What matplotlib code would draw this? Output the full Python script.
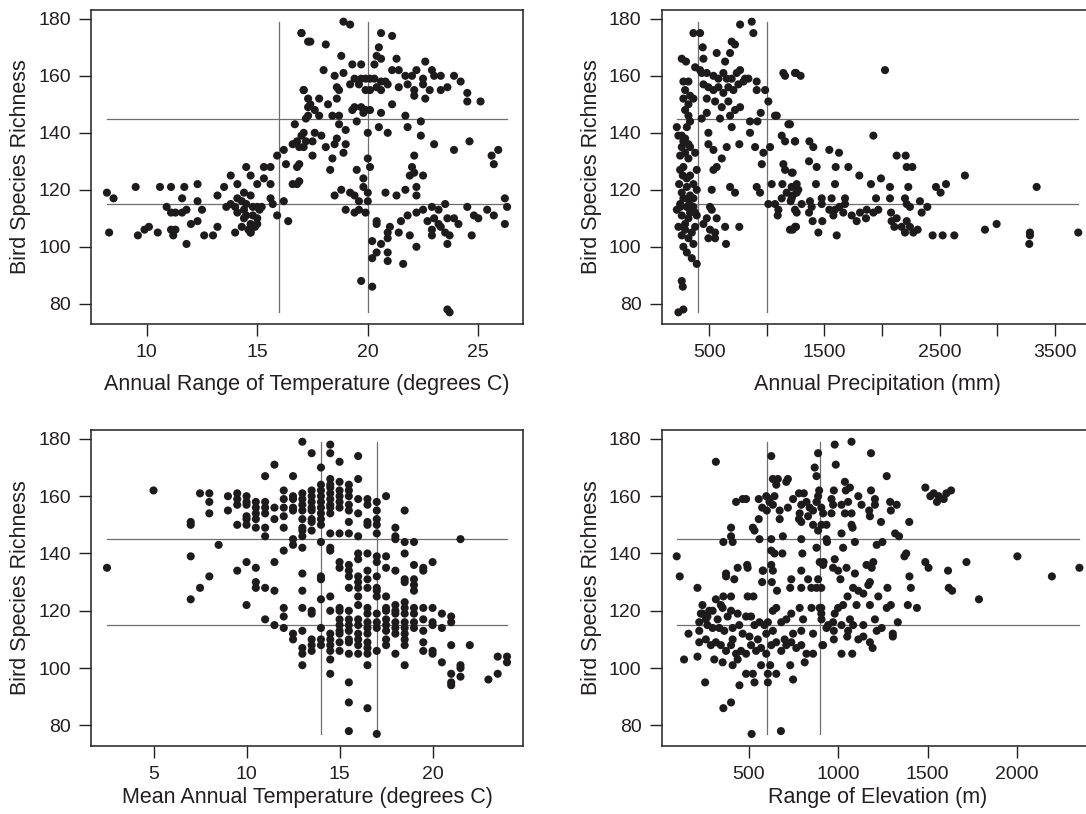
import matplotlib
matplotlib.use("Agg")
import matplotlib.pyplot as plt

plt.rcParams["font.family"] = ["Liberation Sans", "DejaVu Sans"]

# annual range of temperature (deg C), bird species richness
range_pts = [
    (17.0,175),(17.3,172),(17.1,155),(17.3,152),(17.3,149),(17.3,146),(16.7,143),(17.0,139),(16.6,136),(16.9,135),
    (16.8,137),(16.2,134),(15.9,132),(16.3,129),(16.8,128),(15.3,128),(15.6,128),(14.5,128),(14.7,125),(15.3,124),
    (13.8,125),(15.0,122),(15.6,122),(16.6,122),(16.8,122),(14.1,122),(13.5,121),(13.2,118),(14.4,119),(15.6,117),
    (15.7,115),(16.2,116),(15.9,111),(16.4,109),
    (8.2,119),(8.5,117),(8.3,105),(9.5,121),(9.6,104),(9.9,106),(10.1,107),(10.5,105),(10.6,121),(11.1,121),
    (11.7,121),(12.3,122),(11.6,117),(12.3,116),(12.5,113),(10.9,114),(11.1,112),(11.3,112),(11.8,113),(11.6,112),
    (11.1,106),(11.3,106),(11.2,104),(11.8,101),(12.0,108),(12.3,109),(12.6,104),(13.0,104),(13.2,107),(14.0,105),
    (14.3,107),(14.7,105),
    (14.1,117),(14.3,116),(14.5,115),(14.7,118),(14.8,114),(15.0,114),(15.1,113),(14.4,113),(14.1,112),(14.5,111),
    (14.8,111),(15.0,110),(14.7,108),(14.9,107),(14.6,106),(15.0,108),(15.2,114),(13.8,115),(13.6,114),(14.0,114),
    (14.4,110),(14.7,105),
    (18.9,179),(19.2,178),(17.0,175),(17.4,172),(18.1,171),(18.8,167),(20.6,175),(21.1,174),(20.5,170),(20.4,167),
    (20.6,166),(21.3,166),(22.6,165),(19.3,164),(19.7,164),(20.3,164),(18.0,162),
    (18.5,160),(18.9,161),(19.4,159),(19.7,159),(19.9,159),(20.1,159),(20.3,159),(20.6,158),(20.8,158),(21.1,162),
    (21.4,162),(21.7,160),(22.0,160),(22.2,162),(22.5,159),(22.9,162),(23.0,160),(23.3,160),(23.9,160),(24.2,158),
    (18.6,156),(18.7,155),(19.2,157),(19.6,157),(19.9,155),(20.1,155),(20.4,156),(20.6,155),(20.9,157),(21.4,156),
    (21.8,157),(22.1,155),(22.5,157),(22.8,155),(23.3,155),(23.6,156),(24.5,154),(24.5,151),(25.1,151),(22.6,152),
    (22.1,153),(17.1,155),(17.8,152),(18.2,150),(18.6,152),(17.4,150),(17.6,148),(17.2,145),(17.8,146),(18.4,146),
    (18.7,146),(19.4,149),(19.7,149),(19.9,148),(19.3,148),(20.1,148),(20.6,147),(21.1,150),(19.8,147),(19.5,144),
    (18.7,143),(19.0,141),(20.0,140),(20.5,142),(20.9,140),(21.7,146),(21.8,142),(22.4,144),(22.4,139),(23.0,136),
    (23.9,134),(24.6,137),(25.6,132),(25.9,134),(25.7,129),
    (17.1,140),(17.6,140),(17.9,139),(17.5,137),(17.2,137),(17.1,135),(18.1,135),(18.6,138),(18.5,136),(19.0,136),
    (18.9,133),(17.5,132),(18.4,131),(18.3,127),(16.9,129),(16.9,123),(20.0,131),(20.1,128),(19.5,127),(19.8,124),
    (19.8,121),(20.0,119),(18.8,120),(19.2,119),(19.4,118),(18.5,118),(19.6,116),(20.0,116),(19.0,113),(19.4,112),
    (19.6,113),(19.9,112),(20.8,119),(21.3,118),(21.7,120),(22.2,121),(22.2,118),(22.1,132),(22.0,128),(22.1,126),
    (21.9,125),(22.5,125),
    (20.4,109),(20.4,108),(21.0,107),(20.9,105),(21.5,109),(21.4,105),(20.9,103),(20.2,102),(20.6,101),(20.4,98),
    (20.2,96),(20.9,98),(20.9,95),(21.6,94),(21.9,104),(22.2,100),(21.8,111),(22.2,112),(22.5,113),(22.9,114),
    (23.2,113),(23.5,115),(22.7,109),(23.0,110),(23.2,108),(22.9,106),(23.3,107),(23.6,110),(23.9,110),(24.1,108),
    (23.5,105),(23.7,104),(23.6,101),(22.9,104),(24.7,104),(24.5,114),(24.8,111),(25.0,110),(25.4,113),(25.7,111),
    (26.2,117),(26.3,114),(26.2,108),(19.7,88),(20.2,86),(23.6,78),(23.7,77),
]

# annual precipitation (mm), bird species richness
precip_pts = [
    (263,166),(300,165),(364,175),(422,175),(445,170),(451,166),(277,158),(321,158),(379,163),(422,162),
    (292,155),(335,153),(277,152),(321,150),(364,152),(292,148),(321,146),(335,144),(307,142),(263,139),
    (292,138),(321,136),(263,135),(335,135),(292,133),(249,132),(321,131),(379,133),(277,128),(249,127),
    (272,125),(335,125),(393,127),(393,120),(307,121),(263,119),(335,118),(277,117),(364,117),(249,115),
    (307,114),(350,113),(263,111),(321,110),(234,107),(292,106),(350,105),(263,104),(321,103),(364,101),
    (277,100),(307,98),(350,96),(393,94),(263,88),(272,86),(277,78),(234,77),
    (220,142),(234,139),(277,137),(240,122),(307,124),(364,122),(220,113),(379,112),(292,108),(379,107),
    (249,114),(329,116),(364,114),(393,111),(335,112),
    (436,161),(480,161),(538,160),(581,159),(624,161),(653,159),(696,159),(740,161),(769,162),(798,158),
    (812,159),(566,168),(639,165),(682,168),(696,172),(725,171),(769,178),(870,179),(884,175),(451,157),
    (494,156),(538,155),(581,156),(624,154),(667,156),(711,155),(754,157),(841,159),(913,158),(913,155),
    (986,155),(1014,151),(480,152),(552,151),(610,149),(667,151),(725,148),(769,149),(480,147),(436,145),
    (595,145),(682,146),(855,144),(919,144),(948,147),(1072,146),(696,142),(494,140),(855,140),(494,136),
    (538,134),(653,135),(762,136),(899,135),(1029,135),(971,133),(610,131),(566,128),(538,127),(957,129),
    (523,120),(682,121),(725,119),(913,121),(942,119),(508,114),(523,113),(480,110),(566,110),(451,108),
    (508,106),(552,105),(494,103),(552,103),(647,101),(639,107),(762,107),
    (1014,115),(1072,115),(1101,113),(1095,111),(1043,122),(1136,122),(1130,117),(1173,119),(1225,118),(1260,122),
    (1274,120),(1217,126),(1144,129),(1159,127),(1130,139),(1159,137),(1246,137),(1188,143),(1087,146),(1144,161),
    (1159,160),(1254,161),(1208,116),(1260,112),(1202,106),(1246,107),
    (1245,161),(1294,160),(2026,162),(1202,143),(1245,137),(1925,139),(1370,137),(1404,135),(1543,134),(1627,133),
    (2127,132),(2205,132),(1367,130),(1433,128),(1598,128),(1708,128),(2214,128),(2263,128),(1225,126),(1803,125),
    (2719,125),(1427,122),(1592,122),(1904,122),(1991,124),(2069,121),(2228,121),(2468,121),(2555,122),(2508,119),
    (3341,121),(1216,121),(1260,119),(1216,117),(1303,115),(1245,113),(1375,116),(1390,114),(1367,112),(1477,117),
    (1477,115),(1563,117),(1679,117),(1679,115),(1543,113),(1592,113),(1630,114),(1578,111),(1664,112),(1737,111),
    (1809,112),(1780,109),(1861,110),(1867,113),(1925,112),(1968,113),(1948,117),(2069,117),(2078,112),(2083,109),
    (2127,110),(2107,107),(2199,117),(2214,115),(2242,114),(2329,116),(2344,112),(2393,114),(2214,109),(2170,107),
    (2199,105),(2242,107),(2309,106),(2271,105),(2439,104),(2526,104),(2627,104),(2893,106),(2994,108),(3283,105),
    (3283,104),(3277,101),(3702,105),(1398,109),(1482,109),(1448,105),(1607,104),(1225,106),(1254,107),
]

# mean annual temperature (deg C), bird species richness
mean_pts = [
    (2.5,135),(5.0,162),(7.0,151),(7.0,150),(7.0,139),(7.0,124),(7.5,161),(8.0,161),(8.0,158),(8.0,154),
    (7.5,128),(8.0,132),(8.5,143),(9.0,160),(9.0,155),(9.5,161),(9.5,159),(9.5,157),(9.5,150),(10.0,160),
    (10.0,158),(10.0,157),(10.0,153),(10.0,152),(10.0,150),(9.5,134),(10.0,137),(10.0,122),(10.5,158),(10.5,156),
    (10.5,154),(10.5,152),(10.5,149),(10.5,135),(10.5,130),(10.5,128),(11.0,158),(11.0,156),(11.0,154),(11.0,149),
    (11.0,146),(11.0,167),(11.0,128),(11.0,117),(11.5,171),(11.5,156),(11.5,152),(11.5,137),(11.5,127),(11.5,115),
    (12.0,162),(12.0,159),(12.0,156),(12.0,153),(12.0,149),(12.0,141),(12.0,121),(12.0,118),(12.0,114),(12.5,167),
    (12.5,160),(12.5,159),(12.5,156),(12.5,155),(12.5,145),(12.5,143),(12.5,112),(12.5,110),(13.0,179),(13.0,161),
    (13.0,159),(13.0,157),(13.0,155),(13.0,152),(13.0,149),(13.0,148),(13.0,146),(13.0,142),(13.0,133),(13.0,127),
    (13.0,121),(13.0,113),(13.0,107),(13.0,105),(13.0,101),
    (13.5,175),(13.5,162),(13.5,160),(13.5,158),(13.5,156),(13.5,155),(13.5,152),(13.5,151),(13.5,148),(13.5,120),
    (13.5,119),(13.5,110),(13.5,108),(13.5,106),
    (14.0,170),(14.0,164),(14.0,162),(14.0,160),(14.0,158),(14.0,156),(14.0,154),(14.0,152),(14.0,150),(14.0,144),
    (14.0,132),(14.0,131),(14.0,124),(14.0,114),(14.0,110),(14.0,108),
    (14.5,178),(14.5,175),(14.5,166),(14.5,164),(14.5,163),(14.5,161),(14.5,159),(14.5,157),(14.5,156),(14.5,154),
    (14.5,147),(14.5,142),(14.5,141),(14.5,125),(14.5,120),(14.5,112),(14.5,110),(14.5,108),(14.5,106),(14.5,103),
    (14.5,98),
    (15.0,172),(15.0,165),(15.0,162),(15.0,160),(15.0,158),(15.0,156),(15.0,147),(15.0,137),(15.0,135),(15.0,121),
    (15.0,120),(15.0,117),(15.0,115),(15.0,113),(15.0,112),(15.0,109),(15.0,106),
    (15.5,164),(15.5,162),(15.5,160),(15.5,157),(15.5,155),(15.5,151),(15.5,147),(15.5,136),(15.5,134),(15.5,132),
    (15.5,128),(15.5,120),(15.5,117),(15.5,115),(15.5,113),(15.5,110),(15.5,109),(15.5,105),(15.5,95),(15.5,88),
    (15.5,78),
    (16.0,174),(16.0,166),(16.0,159),(16.0,154),(16.0,146),(16.0,140),(16.0,138),(16.0,132),(16.0,130),(16.0,128),
    (16.0,125),(16.0,122),(16.0,117),(16.0,115),(16.0,112),(16.0,110),(16.0,108),(16.0,105),
    (16.5,159),(16.5,157),(16.5,151),(16.5,150),(16.5,140),(16.5,134),(16.5,131),(16.5,128),(16.5,121),(16.5,119),
    (16.5,116),(16.5,114),(16.5,112),(16.5,109),(16.5,107),(16.5,105),(16.5,101),(16.5,86),
    (17.0,158),(17.0,155),(17.0,152),(17.0,150),(17.0,147),(17.0,139),(17.0,137),(17.0,132),(17.0,128),(17.0,127),
    (17.0,125),(17.0,119),(17.0,116),(17.0,114),(17.0,106),(17.0,77),
    (17.5,160),(17.5,139),(17.5,135),(17.5,125),(17.5,121),(17.5,120),(17.5,117),(17.5,115),(17.5,113),(17.5,110),
    (17.5,108),
    (18.0,149),(18.0,146),(18.0,145),(18.0,134),(18.0,122),(18.0,120),(18.0,119),(18.0,116),(18.0,114),(18.0,112),
    (18.0,105),
    (18.5,155),(18.5,144),(18.5,140),(18.5,131),(18.5,130),(18.5,123),(18.5,121),(18.5,119),(18.5,116),(18.5,114),
    (18.5,112),(18.5,110),(18.5,108),(18.5,101),
    (19.0,144),(19.0,136),(19.0,131),(19.0,129),(19.0,127),(19.0,121),(19.0,119),(19.0,116),(19.0,114),
    (19.5,135),(19.5,134),(19.5,121),(19.5,117),(19.5,113),(19.5,109),(19.5,106),
    (20.0,137),(20.0,121),(20.0,116),(20.0,115),(20.0,106),(20.0,105),
    (20.5,119),(20.5,114),(20.5,102),
    (21.0,118),(21.0,116),(21.0,108),(21.0,98),(21.0,95),(21.0,94),
    (21.5,145),(21.5,101),(21.5,100),(21.5,97),(22.0,108),(23.0,96),(23.5,104),(23.5,98),(24.0,104),(24.0,102),
]

# range of elevation (m), bird species richness
elev_pts = [
    (96,139),(113,132),(137,103),(162,112),(212,128),(212,104),(222,113),(240,122),(231,119),(255,95),
    (315,172),(357,86),(400,88),(357,144),(409,144),(400,146),(400,149),(428,158),(465,159),(484,159),
    (522,149),(531,148),(490,136),(493,135),(578,134),(525,125),(372,132),(418,131),(400,125),(357,125),
    (315,124),(343,122),(278,120),(268,118),
    (555,159),(574,156),(597,160),(615,159),(634,157),(643,160),(600,155),(555,152),(634,166),(662,166),
    (653,164),(718,166),(709,165),(672,155),(672,152),(718,156),(747,159),(780,161),(807,161),(793,157),
    (784,154),(780,152),(793,151),(822,158),(840,156),(831,153),(859,155),(878,158),(887,160),(893,162),
    (868,170),(878,167),(887,175),(859,150),(887,148),(906,150),(625,174),(615,158),(559,145),(625,145),
    (625,141),(643,140),(687,140),(690,146),(625,136),(578,134),(628,130),(657,127),(737,131),(731,128),
    (799,140),(793,145),(793,134),(831,131),(849,128),(878,128),(887,131),(878,142),(896,137),(915,136),
    (934,145),
    (240,119),(259,117),(297,120),(325,117),(353,121),(381,118),(400,120),(437,119),(484,118),(512,118),
    (222,116),(268,115),(297,114),(334,114),(362,113),(409,114),(446,115),(531,115),(559,116),(587,115),
    (606,116),(634,120),(653,121),(681,116),(709,117),(737,119),(784,121),(803,117),(850,121),(896,121),
    (906,117),
    (222,109),(259,110),(287,108),(315,109),(343,108),(372,106),(400,108),(428,105),(456,106),(484,105),
    (512,108),(540,106),(568,107),(597,105),(625,108),(653,109),(681,106),(709,108),(737,109),(765,107),
    (793,108),(822,105),(859,105),(911,108),(597,112),(634,113),(700,110),(747,112),(793,113),(859,112),
    (550,110),(503,111),(465,112),(409,110),
    (306,103),(353,102),(409,101),(437,103),(484,98),(522,98),(568,101),(606,98),(619,101),(653,98),
    (731,101),(747,96),(606,95),(531,95),(447,94),(812,102),(515,77),(679,78),
    (372,133),(437,135),(634,134),(493,125),(574,130),(793,128),
    (980,178),(1074,179),(1183,175),(986,171),(1271,167),(1037,165),(975,162),(1042,162),(1065,163),(1183,162),
    (1112,160),(1205,159),(1290,158),(1327,157),(962,159),(971,157),(1018,157),(1055,158),(1130,157),(1205,157),
    (1173,155),(1294,155),(905,156),(915,154),(962,154),(1037,154),(1074,154),(1177,153),(1239,151),(1397,151),
    (934,150),(1074,150),(1080,149),(1018,147),(1318,147),(1340,146),(937,144),(1093,144),(1247,144),(1215,143),
    (1027,142),(1380,140),(1370,139),(2002,139),(2349,135),(2195,132),(1717,137),(1487,137),(1505,135),(1614,134),
    (918,137),(980,138),(971,135),(999,134),(1012,131),(1046,135),(1093,133),(1158,136),(1196,137),(1187,135),
    (1177,130),(1168,129),(1398,132),(1406,128),(1275,128),(1083,128),(1112,127),(1140,126),(1224,125),(1618,128),
    (1637,127),(1787,124),(1052,125),(1027,122),(999,121),(1102,122),(1177,122),(1271,121),(1294,122),(1389,122),
    (1440,121),(905,121),(980,119),(971,116),(943,115),(975,113),(1018,115),(1065,117),(1083,115),(1140,115),
    (1205,117),(1333,116),(1055,113),(1112,110),(1140,111),(1177,109),(1192,107),(1243,114),(1215,113),(1305,112),
    (1305,111),(1050,111),(915,108),(975,110),(1018,105),(1078,105),(934,114),(905,119),(905,128),
    (1487,163),(1515,160),(1534,161),(1552,158),(1562,160),(1590,159),(1605,161),(1631,162),
]

cut_lines = [(16, 20), (400, 1000), (14, 17), (600, 900)]
rich_lines = [115, 145]
x_labels = ["Annual Range of Temperature (degrees C)", "Annual Precipitation (mm)",
            "Mean Annual Temperature (degrees C)", "Range of Elevation (m)"]
x_ticks = [[10, 15, 20, 25], [500, 1000, 1500, 2000, 2500, 3000, 3500],
           [5, 10, 15, 20], [500, 1000, 1500, 2000]]
x_tick_text = [["10", "15", "20", "25"], ["500", "", "1500", "", "2500", "", "3500"],
               ["5", "10", "15", "20"], ["500", "1000", "1500", "2000"]]
x_lims = [(7.48, 27.02), (89, 3836), (1.64, 24.86), (12, 2429)]

W, H = 1086, 814
boxes = [(91, 10, 523, 324), (661.7, 10, 1093.7, 324),
         (91, 430, 523, 745.7), (661.7, 430, 1093.7, 745.7)]

fig = plt.figure(figsize=(W / 100, H / 100), dpi=100)
for i, pts in enumerate([range_pts, precip_pts, mean_pts, elev_pts]):
    l, t, r, b = boxes[i]
    ax = fig.add_axes([l / W, 1 - b / H, (r - l) / W, (b - t) / H])
    xs = [p[0] for p in pts]
    ys = [p[1] for p in pts]
    for c in rich_lines:
        ax.plot([min(xs), max(xs)], [c, c], color="#6e6e6e", lw=0.9, zorder=1)
    for c in cut_lines[i]:
        ax.plot([c, c], [min(ys), max(ys)], color="#6e6e6e", lw=0.9, zorder=1)
    ax.scatter(xs, ys, s=34, color="#1e1b1c", edgecolors="none", zorder=2)
    ax.set_xlim(*x_lims[i])
    ax.set_ylim(72.9, 183.1)
    ax.set_yticks([80, 100, 120, 140, 160, 180])
    ax.set_xticks(x_ticks[i])
    ax.set_xticklabels(x_tick_text[i])
    ax.tick_params(direction="out", length=8.5, width=1.0, labelsize=14,
                   pad=6, color="#231f20", labelcolor="#231f20")
    for s in ax.spines.values():
        s.set_linewidth(1.1)
        s.set_color("#231f20")
    # bottom row sits closer to the page edge
    ax.set_xlabel(x_labels[i], fontsize=15.5, labelpad=9 if i < 2 else 3, color="#231f20")
    ax.set_ylabel("Bird Species Richness", fontsize=15.5, labelpad=5, color="#231f20")

fig.savefig("out.png", dpi=100)
